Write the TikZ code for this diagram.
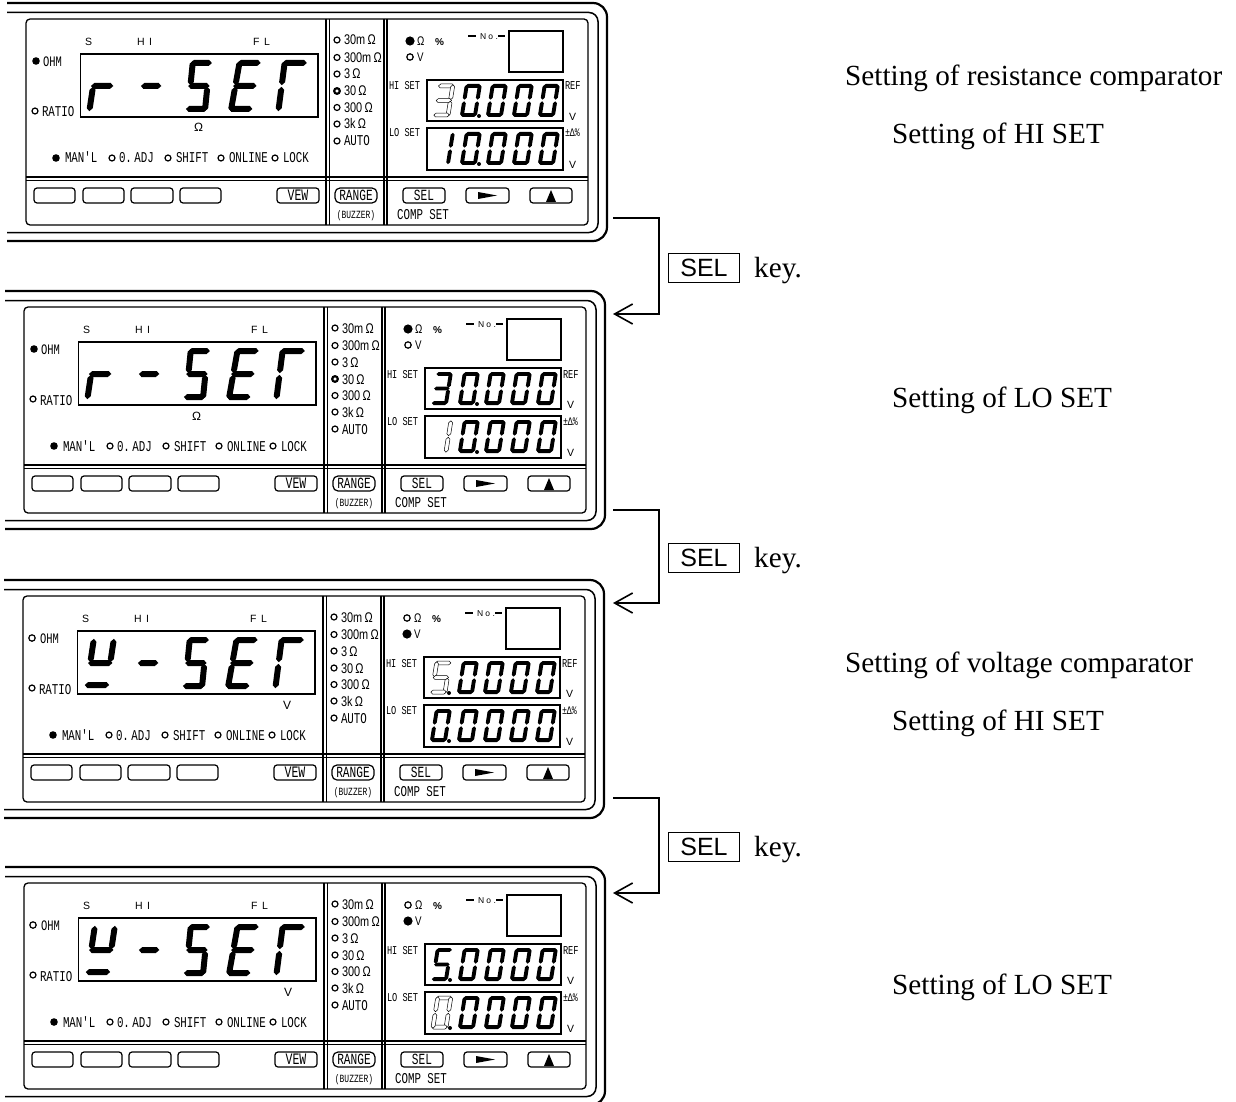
\documentclass[tikz,border=0pt]{standalone}
\usepackage{fontspec}
\usetikzlibrary{arrows.meta}
\setmainfont{Liberation Serif}
\newfontfamily\mn[FakeStretch=.72]{Liberation Mono}
\newfontfamily\sn[FakeStretch=.78]{Liberation Sans}
\newfontfamily\ar{Liberation Sans}
\newcount\nn
\newcommand{\Lb}[3]{\global\advance\nn by 1\relax \node[lb,font={#1}] (t\the\nn) at (#2) {#3};}
\newcommand{\Lc}[3]{\global\advance\nn by 1\relax \node[lb,anchor=base,font={#1}] (t\the\nn) at (#2) {#3};}
\newcommand{\HS}[3]{\path[\segst] ({#1},{#3}) -- ({#1+\dt/2},{#3-\dt/2}) -- ({#2-\dt/2},{#3-\dt/2}) -- ({#2},{#3}) -- ({#2-\dt/2},{#3+\dt/2}) -- ({#1+\dt/2},{#3+\dt/2}) -- cycle;}
\newcommand{\VS}[3]{\path[\segst] ({#1},{#2}) -- ({#1+\dt/2},{#2+\dt/2}) -- ({#1+\dt/2},{#3-\dt/2}) -- ({#1},{#3}) -- ({#1-\dt/2},{#3-\dt/2}) -- ({#1-\dt/2},{#2+\dt/2}) -- cycle;}
\newcommand{\dsega}{\HS{.8}{\dw-.8}{\dt/2}}
\newcommand{\dsegg}{\HS{.8}{\dw-.8}{\dh/2}}
\newcommand{\dsegd}{\HS{.8}{\dw-.8}{\dh-\dt/2}}
\newcommand{\dsegf}{\VS{\dt/2}{.8}{\dh/2-.8}}
\newcommand{\dsege}{\VS{\dt/2}{\dh/2+.8}{\dh-.8}}
\newcommand{\dsegb}{\VS{\dw-\dt/2}{.8}{\dh/2-.8}}
\newcommand{\dsegc}{\VS{\dw-\dt/2}{\dh/2+.8}{\dh-.8}}
% X Y w h t slant solid-segments hollow-segments
\newcommand{\Dg}[8]{\begin{scope}[shift={(#1,#2)},xslant=#6]
\def\dw{#3}\def\dh{#4}\def\dt{#5}
\def\segst{segsolid}\foreach \s in {#7}{\csname dseg\s\endcsname}
\def\segst{seghollow}\foreach \s in {#8}{\csname dseg\s\endcsname}
\end{scope}}
% y, first digit solid, first digit hollow, dot x, dot y
\newcommand{\Rw}[5]{%
\Dg{438}{#1}{17}{33}{3.9}{.16}{#2}{#3}
\Dg{465}{#1}{17}{33}{3.9}{.16}{a,b,c,d,e,f}{}
\Dg{491}{#1}{17}{33}{3.9}{.16}{a,b,c,d,e,f}{}
\Dg{517}{#1}{17}{33}{3.9}{.16}{a,b,c,d,e,f}{}
\Dg{543}{#1}{17}{33}{3.9}{.16}{a,b,c,d,e,f}{}
\fill (#4,#5) circle[radius=2pt];}
\newcommand{\Panel}[1]{%
\draw[outerf] (7,3) -- (607,3) -- (607,241) -- (7,241);
\draw[innerf] (7,12.5) -- (598,12.5) -- (598,232.5) -- (7,232.5);
\draw[bodyf] (26,19) rectangle (588,225);
\draw[thick3] (326,19) -- (326,225) (329.5,19) -- (329.5,225) (384,19) -- (384,225) (387,19) -- (387,225) (26,177) -- (588,177) (26,180.5) -- (588,180.5);
\draw[boxl] (80.5,54) rectangle (318,117);
\draw[boxl] (509,31) rectangle (563,72);
\draw[boxl] (427,80) rectangle (563,121);
\draw[boxl] (427,128) rectangle (563,170);
\Lb{\ar\fontsize{10.5}{10.5}\selectfont}{85,45.5}{S}
\Lb{\ar\fontsize{10.5}{10.5}\selectfont}{137,45.5}{H\ \,I}
\Lb{\ar\fontsize{10.5}{10.5}\selectfont}{253,45.5}{F\ \,L}
\Lb{\mn\fontsize{14.5}{14.5}\selectfont}{43,66.5}{OHM}
\Lb{\mn\fontsize{15}{15}\selectfont}{42,117}{RATIO}
\Lb{\mn\fontsize{15}{15}\selectfont}{65,163}{MAN'L}
\Lb{\mn\fontsize{15}{15}\selectfont}{119,163}{0.\,ADJ}
\Lb{\mn\fontsize{15}{15}\selectfont}{176,163}{SHIFT}
\Lb{\mn\fontsize{15}{15}\selectfont}{229,163}{ONLINE}
\Lb{\mn\fontsize{15}{15}\selectfont}{283,163}{LOCK}
\fill (56,158) circle[radius=3.8pt];
\draw[doth] (112,158) circle[radius=3pt];
\draw[doth] (168,158) circle[radius=3pt];
\draw[doth] (221,158) circle[radius=3pt];
\draw[doth] (275,158) circle[radius=3pt];
\foreach \yy in {40,57.5,74,107.5,124,141}{\draw[doth] (337,\yy) circle[radius=3pt];}
\Lb{\sn\fontsize{14}{14}\selectfont}{344,45}{30m\,Ω}
\Lb{\sn\fontsize{14}{14}\selectfont}{344,62.5}{300m\,Ω}
\Lb{\sn\fontsize{14}{14}\selectfont}{344,79}{3\,Ω}
\Lb{\sn\fontsize{14}{14}\selectfont}{344,96}{30\,Ω}
\Lb{\sn\fontsize{14}{14}\selectfont}{344,112.5}{300\,Ω}
\Lb{\sn\fontsize{14}{14}\selectfont}{344,129}{3k\,Ω}
\Lb{\mn\fontsize{15}{15}\selectfont}{344,146}{AUTO}
\Lb{\sn\fontsize{12.5}{12.5}\selectfont}{417,45.5}{Ω}
\Lb{\sn\fontsize{12.5}{12.5}\selectfont}{417,61.5}{V}
\Lb{\ar\bfseries\fontsize{10}{10}\selectfont}{435,45.5}{\%}
\Lb{\ar\fontsize{8.5}{8.5}\selectfont}{480,39.5}{N o .}
\draw[boxl] (468,36) -- (476,36) (498,36) -- (505,36);
\Lb{\mn\fontsize{12}{12}\selectfont}{389,90}{HI SET}
\Lb{\mn\fontsize{12}{12}\selectfont}{389,137}{LO SET}
\Lb{\mn\fontsize{12}{12}\selectfont}{565,90}{REF}
\Lb{\mn\fontsize{11.5}{11.5}\selectfont}{565,137}{±Δ\%}
\Lb{\ar\fontsize{10.5}{10.5}\selectfont}{569,120.5}{V}
\Lb{\ar\fontsize{10.5}{10.5}\selectfont}{569,168.5}{V}
\draw[keyb] (34,188) rectangle (75,203);
\draw[keyb] (83,188) rectangle (124,203);
\draw[keyb] (131,188) rectangle (173,203);
\draw[keyb] (180,188) rectangle (221,203);
\draw[keyb] (277,188) rectangle (319,203);
\draw[keyb,rounded corners=5pt] (335,188) rectangle (377,203);
\draw[keyb] (403,188) rectangle (445,203);
\draw[keyb] (466,188) rectangle (509,203);
\draw[keyb] (530,188) rectangle (572,203);
\Lc{\mn\fontsize{16}{16}\selectfont}{298,200.5}{VEW}
\Lc{\mn\fontsize{15.5}{15.5}\selectfont}{356,200.5}{RANGE}
\Lc{\mn\fontsize{15.5}{15.5}\selectfont}{424,200.5}{SEL}
\Lc{\mn\fontsize{11}{11}\selectfont}{356,218.5}{(BUZZER)}
\Lc{\mn\fontsize{15}{15}\selectfont}{423,219.5}{COMP SET}
\fill (478,192) -- (497,195.5) -- (478,199) -- cycle;
\fill (551,190) -- (556,202) -- (546,202) -- cycle;
\Dg{144}{60}{22}{52}{6}{.15}{g}{}
\Dg{190}{60}{23}{52}{6}{.1}{a,f,g,c,d}{}
\Dg{237}{60}{25}{52}{6}{.18}{a,f,g,e,d}{}
\Dg{282}{60}{26}{52}{6}{.13}{a,f,e}{}
\if r#1
 \Dg{94}{60}{24}{52}{6}{.15}{g,e}{}
 \Lb{\ar\fontsize{12}{12}\selectfont}{194,132}{Ω}
 \fill (36,61) circle[radius=3.8pt];
 \draw[doth] (35,111) circle[radius=3pt];
 \draw[doth,line width=2.2pt] (337,91) circle[radius=2.8pt];
 \fill (410,41) circle[radius=4.6pt];
 \draw[doth] (410,57) circle[radius=3.2pt];
\else
 \Dg{94}{61}{26}{50}{6}{.15}{f,b,g,d}{}
 \Lb{\ar\fontsize{12}{12}\selectfont}{286,132}{V}
 \draw[doth] (35,61) circle[radius=3.2pt];
 \draw[doth] (35,111) circle[radius=3pt];
 \draw[doth] (337,91) circle[radius=3pt];
 \draw[doth] (410,41) circle[radius=3.2pt];
 \fill (410,57) circle[radius=4.6pt];
\fi
}
\tikzset{
 lb/.style={inner sep=0pt,outer sep=0pt,anchor=base west,text=black},
 segsolid/.style={fill=black},
 seghollow/.style={fill=white,draw=black,line width=.5pt},
 outerf/.style={line width=2.2pt,rounded corners=14pt},
 innerf/.style={line width=1.5pt,rounded corners=9pt},
 bodyf/.style={line width=1.3pt,rounded corners=4pt},
 thick3/.style={line width=1.3pt},
 boxl/.style={line width=1.1pt},
 doth/.style={line width=1.2pt,fill=white},
 keyb/.style={line width=1.2pt,rounded corners=3pt},
 conn/.style={line width=1.6pt,-{Straight Barb[length=18pt,width=20pt,line width=1.6pt]}},
 notetext/.style={inner sep=0pt,anchor=base west,font=\fontsize{29.2}{29.2}\selectfont},
 selbox/.style={draw,line width=1.8pt,minimum width=71pt,minimum height=29pt,inner sep=0pt,font=\ar\fontsize{25}{25}\selectfont},
}
\begin{document}
\begin{tikzpicture}[x=1pt,y=-1pt]
\useasboundingbox (0,0) rectangle (1236,1102);
\clip (0,0) rectangle (1236,1102);
\fill[white] (0,0) rectangle (1236,1102);
\begin{scope}[shift={(0,0)}]
\Panel{r}
\Rw{84}{}{a,b,g,c,d}{479}{116}
\Rw{132}{b,c}{}{479}{164}
\end{scope}
\begin{scope}[shift={(-2,288)}]
\Panel{r}
\Rw{84}{a,b,g,c,d}{}{479}{116}
\Rw{132}{}{b,c}{479}{164}
\end{scope}
\begin{scope}[shift={(-3,577)}]
\Panel{v}
\Rw{84}{}{a,f,g,c,d}{452}{116}
\Rw{132}{a,b,c,d,e,f}{}{452}{164}
\end{scope}
\begin{scope}[shift={(-2,864)}]
\Panel{v}
\Rw{84}{a,f,g,c,d}{}{452}{116}
\Rw{132}{}{a,b,c,d,e,f}{452}{164}
\end{scope}
\coordinate (s1) at (613,218); \coordinate (m1) at (659,314); \coordinate (e1) at (613,314);
\coordinate (s2) at (613,510); \coordinate (m2) at (659,603); \coordinate (e2) at (613,603);
\coordinate (s3) at (613,798); \coordinate (m3) at (659,893); \coordinate (e3) at (613,893);
\draw[conn] (s1) -| (m1) -- (e1);
\draw[conn] (s2) -| (m2) -- (e2);
\draw[conn] (s3) -| (m3) -- (e3);
\node[selbox] (sel1) at (704,268) {SEL};
\node[selbox] (sel2) at (704,558) {SEL};
\node[selbox] (sel3) at (704,847) {SEL};
\node[notetext] (k1) at (754,277) {key.};
\node[notetext] (k2) at (754,567) {key.};
\node[notetext] (k3) at (754,856) {key.};
\node[notetext] (n1) at (845,86) {Setting of resistance comparator};
\node[notetext] (n2) at (892,144) {Setting of HI SET};
\node[notetext] (n3) at (892,407) {Setting of LO SET};
\node[notetext] (n4) at (845,672) {Setting of voltage comparator};
\node[notetext] (n5) at (892,730) {Setting of HI SET};
\node[notetext] (n6) at (892,994) {Setting of LO SET};
\end{tikzpicture}
\end{document}
